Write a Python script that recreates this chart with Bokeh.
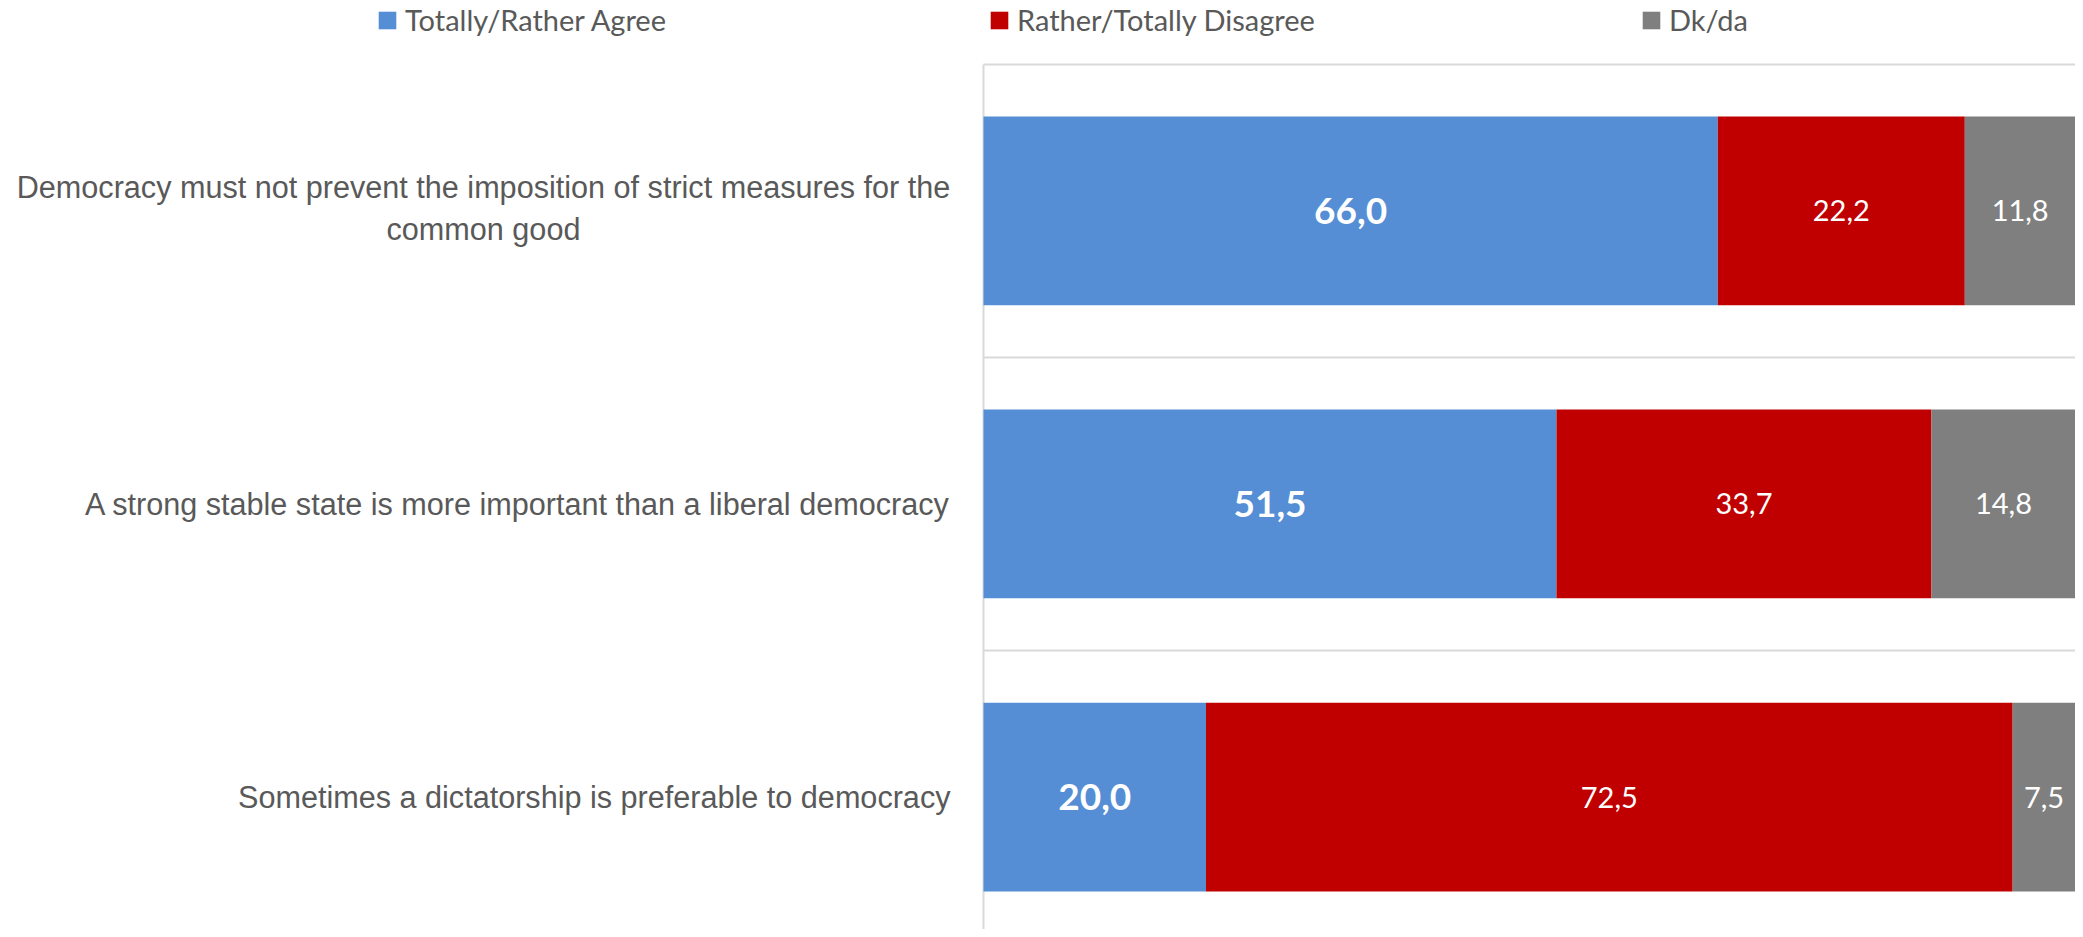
from bokeh.plotting import figure
from bokeh.models import (Range1d, FixedTicker, Legend, LegendItem, ColumnDataSource, Label)
from bokeh.core.properties import value
from bokeh.embed import file_html
from bokeh.resources import INLINE

# ---- data ----
statements = [
    "Democracy must not prevent the imposition of strict measures for the\ncommon good",
    "A strong stable state is more important than a liberal democracy",
    "Sometimes a dictatorship is preferable to democracy",
]
agree = [66.0, 51.5, 20.0]
disagree = [22.2, 33.7, 72.5]
dkda = [11.8, 14.8, 7.5]
series_names = ["Totally/Rather Agree", "Rather/Totally Disagree", "Dk/da"]
colors = ["#558ED5", "#C00000", "#7F7F7F"]

n = len(statements)
ypos = [n - 1 - i for i in range(n)]  # first statement on top

W, H = 2075, 929
X_END = 98.15
p = figure(width=W, height=H, output_backend="svg", toolbar_location=None,
           x_range=Range1d(-88.35, X_END), y_range=Range1d(-0.452, 2.718),
           x_axis_location=None, y_axis_location=None,
           min_border_left=0, min_border_right=0, min_border_top=0,
           min_border_bottom=0)
p.outline_line_color = None
p.background_fill_color = "white"
p.border_fill_color = "white"

left = [0.0] * n
mid = [a for a in agree]
right = [a + d for a, d in zip(agree, disagree)]
end = [a + d + k for a, d, k in zip(agree, disagree, dkda)]

src = ColumnDataSource(dict(y=ypos, l0=left, r0=mid, l1=mid, r1=right, l2=right, r2=end))
bh = 0.644
r_a = p.hbar(y="y", left="l0", right="r0", height=bh, source=src, fill_color=colors[0], line_color=None)
r_d = p.hbar(y="y", left="l1", right="r1", height=bh, source=src, fill_color=colors[1], line_color=None)
r_k = p.hbar(y="y", left="l2", right="r2", height=bh, source=src, fill_color=colors[2], line_color=None)

def fmt(v):
    return f"{v:.1f}".replace(".", ",")

def vis_center(l, r):
    # centre of the visible part of a segment
    return (l + min(r, X_END)) / 2

lab = ColumnDataSource(dict(
    y=ypos,
    xa=[vis_center(l, r) for l, r in zip(left, mid)],
    xd=[vis_center(l, r) for l, r in zip(mid, right)],
    xk=[vis_center(l, r) for l, r in zip(right, end)],
    ta=[fmt(v) for v in agree],
    td=[fmt(v) for v in disagree],
    tk=[fmt(v) for v in dkda],
))
p.text(x="xa", y="y", text="ta", source=lab, text_font=value("Lato"), text_font_style="bold",
       text_font_size="37px", text_color="white", text_align="center", text_baseline="middle")
p.text(x="xd", y="y", text="td", source=lab, text_font=value("Lato"),
       text_font_size="29px", text_color="white", text_align="center", text_baseline="middle")
p.text(x="xk", y="y", text="tk", source=lab, text_font=value("Lato"),
       text_font_size="29px", text_color="white", text_align="center", text_baseline="middle")

# category separators (horizontal) and value axis line at 0 (vertical)
p.ygrid.ticker = FixedTicker(ticks=[y + 0.5 for y in range(-1, n)])
p.ygrid.cross_bounds = (0, 100)
p.ygrid.grid_line_color = "#D9D9D9"
p.ygrid.grid_line_width = 2
p.xgrid.ticker = FixedTicker(ticks=[0])
p.xgrid.cross_bounds = (-1, n - 0.5)
p.xgrid.grid_line_color = "#D9D9D9"
p.xgrid.grid_line_width = 2

# category labels (first one is two centred lines, the others right-aligned)
for y, s in zip(ypos, statements):
    multi = "\n" in s
    p.add_layout(Label(x=0, y=y, x_offset=-500 if multi else -33, y_offset=3 if multi else 0,
                       text=s, text_font="Liberation Sans", text_font_size="30.6px",
                       text_color="#595959", text_align="center" if multi else "right",
                       text_baseline="middle", text_line_height=1.22))

# legends: one per series, placed across the top
leg_x = [376, 988, 1640]
for rend, name, lx in zip([r_a, r_d, r_k], series_names, leg_x):
    lg = Legend(items=[LegendItem(label=name, renderers=[rend])],
                location=(lx, 892), orientation="horizontal",
                glyph_width=22, glyph_height=22, label_standoff=7,
                label_text_font="Lato", label_text_font_size="29px",
                label_text_color="#595959", padding=0, margin=0,
                border_line_color=None, background_fill_alpha=0,
                label_height=18)
    p.add_layout(lg, "center")

open("out.html", "w").write(file_html(p, INLINE))
